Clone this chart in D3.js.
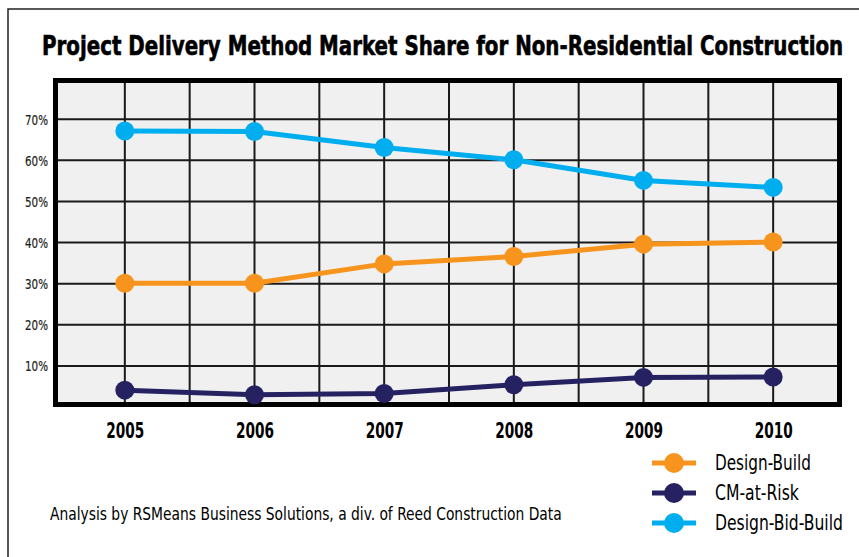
<!DOCTYPE html>
<html>
<head>
<meta charset="utf-8">
<script src="https://cdn.jsdelivr.net/npm/d3@7"></script>
<style>
  html, body { margin: 0; padding: 0; background: #fff; }
  svg { display: block; }
  text { font-family: "DejaVu Sans Condensed", "Liberation Sans Narrow", "Roboto", sans-serif; }
</style>
</head>
<body>
<svg id="chart" width="859" height="557"></svg>
<script>
// ---- data ----
const years = [2005, 2006, 2007, 2008, 2009, 2010];
const designBuild = [30.1, 30.1, 34.8, 36.6, 39.6, 40.1];
const cmAtRisk = [4.1, 3.0, 3.3, 5.4, 7.2, 7.3];
const designBidBuild = [67.1, 67.0, 63.1, 60.1, 55.1, 53.4];
const yTicks = [10, 20, 30, 40, 50, 60, 70];
const seriesNames = ["Design-Build", "CM-at-Risk", "Design-Bid-Build"];
const seriesColors = ["#F7941D", "#262262", "#00AEEF"];
const titleText = "Project Delivery Method Market Share for Non-Residential Construction";
const footerText = "Analysis by RSMeans Business Solutions, a div. of Reed Construction Data";

const seriesValues = [designBuild, cmAtRisk, designBidBuild];

const svg = d3.select("#chart");

// squeeze a text element horizontally to a target width around its own x anchor
function condense(el, target) {
  const node = el.node();
  const w = node.getComputedTextLength();
  if (w > 0) {
    const s = target / w;
    const ax = +el.attr("x") || 0;
    const prev = el.attr("transform") || "";
    el.attr("transform", prev + ` translate(${ax},0) scale(${s},1) translate(${-ax},0)`);
  }
}

// outer frame (top and left edges)
svg.append("path")
  .attr("d", "M8,557 L8,9 L859,9")
  .attr("fill", "none").attr("stroke", "#222").attr("stroke-width", 1.5);

// title
const title = svg.append("text")
  .attr("x", 42).attr("y", 55)
  .attr("font-size", 27).attr("font-weight", "bold")
  .attr("fill", "#000").attr("stroke", "#000").attr("stroke-width", 0.6)
  .text(titleText);
condense(title, 802);

// plot geometry
const inner = { left: 58, right: 838, top: 82, bottom: 404 };

const x = d3.scalePoint().domain(years).range([inner.left + 2, inner.right]).padding(0.5);
const y = d3.scaleLinear().domain([0, 80]).range([407, 78]);
const step = x.step();

// background
svg.append("rect")
  .attr("x", inner.left).attr("y", inner.top)
  .attr("width", inner.right - inner.left).attr("height", inner.bottom - inner.top)
  .attr("fill", "#F0F0F0");

// grid
const grid = svg.append("g").attr("stroke", "#1a1a1a").attr("stroke-width", 2);
const vLines = [];
years.forEach((yr, i) => {
  vLines.push(x(yr));
  if (i < years.length - 1) vLines.push(x(yr) + step / 2);
});
grid.selectAll("line.v").data(vLines).join("line")
  .attr("class", "v")
  .attr("x1", d => d).attr("x2", d => d)
  .attr("y1", inner.top).attr("y2", inner.bottom);
grid.selectAll("line.h").data(yTicks).join("line")
  .attr("class", "h")
  .attr("x1", inner.left).attr("x2", inner.right)
  .attr("y1", d => y(d)).attr("y2", d => y(d));

// frame border
svg.append("rect")
  .attr("x", 55.5).attr("y", y(80) + 2.5)
  .attr("width", 784).attr("height", 324)
  .attr("fill", "none").attr("stroke", "#000").attr("stroke-width", 5);

// y axis labels
const yAxis = d3.axisLeft(y).tickValues(yTicks).tickFormat(d => d + "%").tickSize(0).tickPadding(0);
const gy = svg.append("g").attr("transform", "translate(48,0)").call(yAxis);
gy.select(".domain").remove();
gy.selectAll("text")
  .attr("font-size", 14).attr("fill", "#231F20")
  .attr("font-family", "'DejaVu Sans Condensed', sans-serif")
  .attr("stroke", "#231F20").attr("stroke-width", 0.2)
  .attr("dy", "0.35em")
  .each(function () { condense(d3.select(this), 23); });

// x axis labels
const xAxis = d3.axisBottom(x).tickSize(0).tickPadding(0);
const gx = svg.append("g").attr("transform", "translate(0,438)").call(xAxis);
gx.select(".domain").remove();
gx.selectAll("text")
  .attr("font-size", 21).attr("font-weight", "bold").attr("fill", "#000")
  .attr("font-family", "'DejaVu Sans Condensed', sans-serif")
  .attr("dy", 0).attr("y", 0)
  .each(function () { condense(d3.select(this), 38); });

// lines
const line = d3.line().x((d, i) => x(years[i])).y(d => y(d));
seriesValues.forEach((vals, s) => {
  svg.append("path")
    .attr("d", line(vals))
    .attr("fill", "none")
    .attr("stroke", seriesColors[s]).attr("stroke-width", 5);
  svg.selectAll(null).data(vals).join("circle")
    .attr("cx", (d, i) => x(years[i])).attr("cy", d => y(d))
    .attr("r", 9.5).attr("fill", seriesColors[s]);
});

// footer
const footer = svg.append("text")
  .attr("x", 50).attr("y", 520)
  .attr("font-size", 17).attr("fill", "#000")
  .text(footerText);
condense(footer, 512);

// legend
const legendY = d3.scalePoint().domain(seriesNames).range([463, 523]);
const legendWidths = [96, 84, 128];
const lg = svg.append("g");
seriesNames.forEach((name, i) => {
  const cy = legendY(name);
  lg.append("line").attr("x1", 652).attr("x2", 696).attr("y1", cy).attr("y2", cy)
    .attr("stroke", seriesColors[i]).attr("stroke-width", 5);
  lg.append("circle").attr("cx", 674).attr("cy", cy).attr("r", 10).attr("fill", seriesColors[i]);
  const t = lg.append("text").attr("x", 715).attr("y", cy + 7)
    .attr("font-size", 22).attr("fill", "#000")
    .text(name);
  condense(t, legendWidths[i]);
});
</script>
</body>
</html>
